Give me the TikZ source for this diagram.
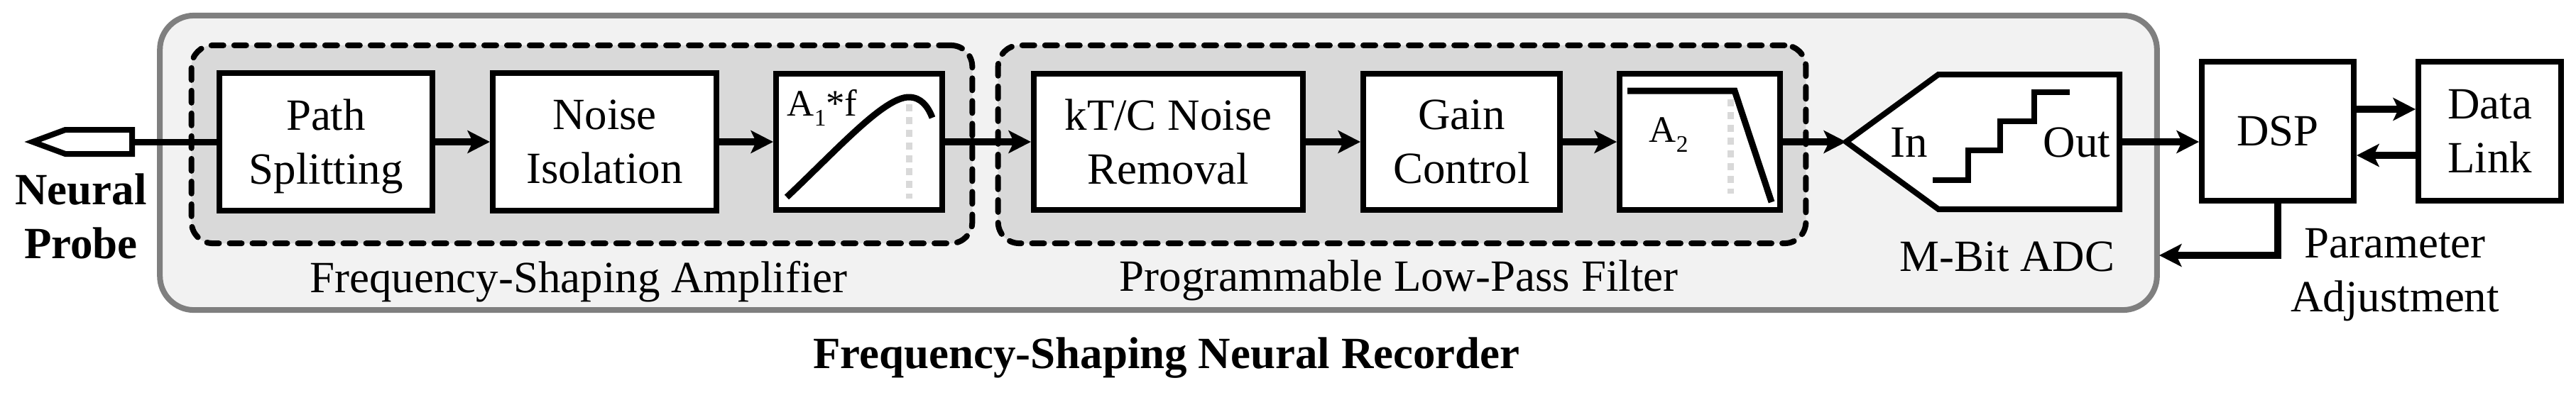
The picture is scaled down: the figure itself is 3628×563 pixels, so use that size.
\documentclass[tikz,border=0pt]{standalone}
\usepackage{fontspec}
\setmainfont{Liberation Serif}
\usetikzlibrary{arrows.meta}
\definecolor{framegray}{HTML}{7F7F7F}
\definecolor{framefill}{HTML}{F2F2F2}
\definecolor{stagefill}{HTML}{D9D9D9}
\newcommand{\lblfont}{\fontsize{17.9pt}{21.6pt}\selectfont}
\newcommand{\gainfont}{\fontsize{15pt}{18pt}\selectfont}
\newcommand{\subfont}{\fontsize{9.5pt}{10pt}\selectfont}
\tikzset{lbl/.style={font=\lblfont},
 block/.style={lbl,draw,fill=white,line width=0.08cm,inner sep=0pt,align=center,minimum height=1.93cm},
 stage/.style={draw,fill=stagefill,line width=0.08cm,rounded corners=0.3cm,
   dash pattern=on 0.17cm off 0.15cm,line cap=round,minimum height=2.79cm},
 recframe/.style={draw=framegray,fill=framefill,line width=0.08cm,rounded corners=0.48cm},
 conn/.style={line width=0.1cm,-{Stealth[length=0.32cm,width=0.33cm,inset=0.08cm,line width=0pt]}},
 wire/.style={line width=0.09cm},
 outline/.style={line width=0.08cm,fill=white},
 plotline/.style={line width=0.09cm},
 cutoff/.style={draw=stagefill,line width=0.09cm,dash pattern=on 0.1cm off 0.08cm},
 }

\begin{document}
\begin{tikzpicture}[x=0.01cm,y=-0.01cm]
    \useasboundingbox (0,0) rectangle (3628,563);
    \node[recframe,minimum width=28.11cm,minimum height=4.15cm] (recorder) at (1631.5,229.5) {};
    \node[stage,minimum width=10.99cm] (amp) at (819.5,203.5) {};
    \node[stage,minimum width=11.37cm] (lpf) at (1974.5,203.5) {};

    \node[block,minimum width=3cm,minimum height=1.94cm] (split) at (459,200) {Path\\\smash{Splitting}};
    \node[block,minimum width=3.15cm,minimum height=1.94cm] (noise) at (851.5,200) {Noise\\Isolation};
    \node[block,minimum width=2.34cm,minimum height=1.92cm] (shaping) at (1210,200) {};
    \node[block,minimum width=3.79cm,minimum height=1.92cm] (ktc) at (1645.5,200) {kT/C Noise\\Removal};
    \node[block,minimum width=2.77cm,minimum height=1.92cm] (gain) at (2058.5,200) {Gain\\Control};
    \node[block,minimum width=2.26cm,minimum height=1.92cm] (lowpass) at (2394,200) {};
    \node[block,minimum width=2.14cm,minimum height=1.96cm] (dsp) at (3208,185) {DSP};
    \node[block,minimum width=2.01cm,minimum height=1.96cm] (link) at (3506.5,185) {Data\\Link};

    % filter sketches
    \draw[cutoff] (1280,147) -- (1280,280);
    \draw[plotline] (1108,278) .. controls (1180,210) and (1245,137) .. (1280,137)
        .. controls (1297,137) and (1307,150) .. (1313,166);
    \node[font=\gainfont,anchor=base west,inner sep=0pt] (shapinggain) at (1108,163) {A\raisebox{-0.14cm}{\subfont 1}*f};
    \draw[cutoff] (2437,140) -- (2437,273);
    \draw[plotline] (2292,128) -- (2443,128) -- (2495,285);
    \node[font=\gainfont,anchor=base west,inner sep=0pt] (lowpassgain) at (2322,200) {A\raisebox{-0.14cm}{\subfont 2}};

    % adc
    \draw[outline] (2600,200) -- (2730,105) -- (2985,105) -- (2985,295) -- (2730,295) -- cycle;
    \draw[line width=0.08cm] (2722,254) -- (2772,254) -- (2772,212) -- (2817,212) -- (2817,171)
        -- (2865,171) -- (2865,130) -- (2915,130);
    \coordinate (adcin) at (2600,200);
    \coordinate (adcout) at (2989,200);
    \node[lbl,anchor=base] (adcinlabel) at (2689,221) {In};
    \node[lbl,anchor=base] (adcoutlabel) at (2925,221) {Out};

    % probe
    \draw[outline] (186,183) -- (92,183) -- (46,200) -- (92,217) -- (186,217) -- cycle;
    \coordinate (probe) at (190,200);
    \coordinate (adjust) at (3041,360);

    \draw[wire] (probe) -- (split);
    \draw[conn] (split) -- (noise);
    \draw[conn] (noise) -- (shaping);
    \draw[conn] (shaping) -- (ktc);
    \draw[conn] (ktc) -- (gain);
    \draw[conn] (gain) -- (lowpass);
    \draw[conn] (lowpass.east) -- (adcin);
    \draw[conn] (adcout) -- (adcout -| dsp.west);
    \draw[conn] ([yshift=0.31cm]dsp.east) -- ([yshift=0.31cm]link.west);
    \draw[conn] ([yshift=-0.34cm]link.west) -- ([yshift=-0.34cm]dsp.east);
    \draw[conn] (dsp.south) |- (adjust);

    \node[lbl,font=\lblfont\bfseries,align=center] (probelabel) at (114,305) {Neural\\Probe};
    \node[lbl,anchor=base] (amplabel) at (815,412) {Frequency-Shaping Amplifier};
    \node[lbl,anchor=base] (lpflabel) at (1970,410) {Programmable Low-Pass Filter};
    \node[lbl,anchor=base] (adclabel) at (2827,382) {M-Bit ADC};
    \node[lbl,align=center] (adjustlabel) at (3373,387.5) {Parameter\\Adjustment};
    \node[lbl,font=\lblfont\bfseries,anchor=base] (title) at (1643,519) {Frequency-Shaping Neural Recorder};
\end{tikzpicture}
\end{document}
